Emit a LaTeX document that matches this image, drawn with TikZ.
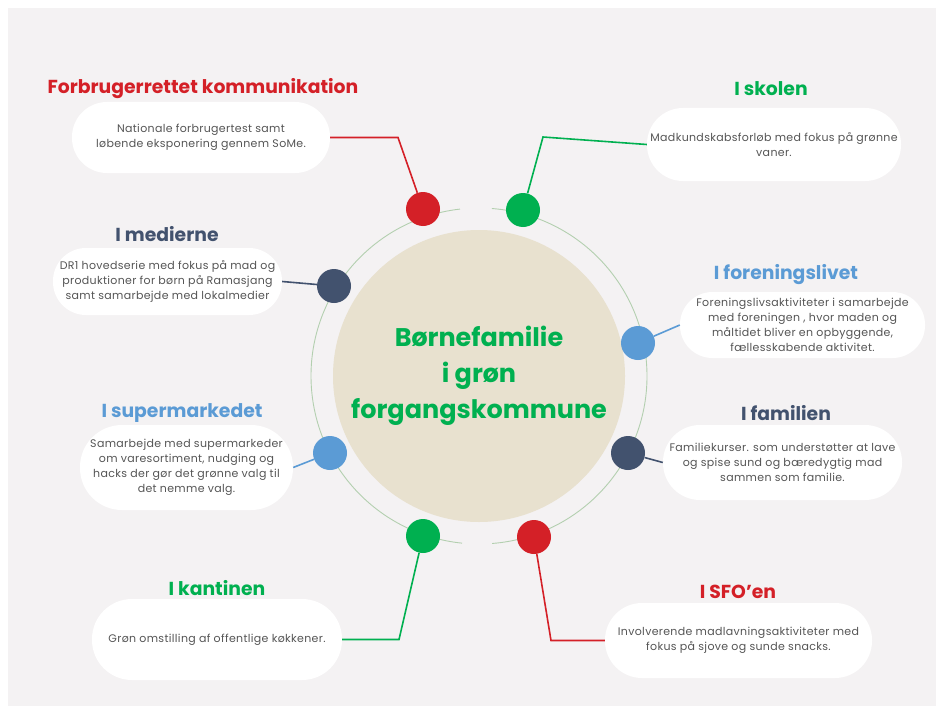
\documentclass[tikz,border=0pt]{standalone}
\usepackage{fontspec}
\setmainfont{Poppins}
\newfontfamily\bodyfont[LetterSpace=3]{Poppins}
\definecolor{bg}{HTML}{F4F2F3}
\definecolor{cred}{HTML}{D42027}
\definecolor{cgreen}{HTML}{00B050}
\definecolor{cslate}{HTML}{42526E}
\definecolor{cblue}{HTML}{5B9BD5}
\definecolor{cbeige}{HTML}{E8E1CF}
\definecolor{cring}{HTML}{B3CFAF}
\definecolor{ctext}{HTML}{555555}
\tikzset{
  infobox/.style={fill=white, inner sep=0pt, align=center, font=\bodyfont\fontsize{11}{15}\selectfont, text=ctext},
  ttl/.style={font=\fontsize{18.8}{22}\selectfont\bfseries, inner sep=0pt},
  dot/.style={circle, minimum size=34pt, inner sep=0pt},
  conn/.style={line width=1.6pt},
}
\begin{document}
\begin{tikzpicture}[x=1pt,y=-1pt]
\useasboundingbox (0,0) rectangle (936,706);
\fill[bg] (8,8) rectangle (936,706);
% centre
\node[circle, fill=cbeige, minimum size=292pt, inner sep=0pt] (hub) at (479,376) {};
\node[align=center, text=cgreen, font=\fontsize{25.5}{36}\selectfont\bfseries] (hubtxt) at (479,376) {Børnefamilie\\i grøn\\forgangskommune};
% ring
\draw[cring, line width=0.9pt] (479,376) ++(263.5:168) arc[start angle=263.5, end angle=95.8, radius=168];
\draw[cring, line width=0.9pt] (479,376) ++(85.5:168) arc[start angle=85.5, end angle=-85.6, radius=168];
% boxes
\node[infobox, minimum width=258pt, minimum height=71pt, rounded corners=35pt] (fc) at (201,137.5) {Nationale forbrugertest samt\\løbende eksponering gennem SoMe.};
\node[infobox, minimum width=254pt, minimum height=73pt, rounded corners=36pt] (sk) at (774,144.5) {Madkundskabsforløb med fokus på grønne\\vaner.};
\node[infobox, minimum width=229pt, minimum height=67pt, rounded corners=33pt] (me) at (167.5,281.5) {DR1 hovedserie med fokus på mad og\\produktioner for børn på Ramasjang\\samt samarbejde med lokalmedier};
\node[infobox, minimum width=245pt, minimum height=66pt, rounded corners=32.5pt] (fo) at (802.5,325) {Foreningslivsaktiviteter i samarbejde\\med foreningen , hvor maden og\\måltidet bliver en opbyggende,\\fællesskabende aktivitet.};
\node[infobox, minimum width=213pt, minimum height=85pt, rounded corners=42pt] (su) at (186.5,467.5) {Samarbejde med supermarkeder\\om varesortiment, nudging og\\hacks der gør det grønne valg til\\det nemme valg.};
\node[infobox, minimum width=239pt, minimum height=75pt, rounded corners=37pt] (fa) at (782.5,462.5) {Familiekurser. som understøtter at lave\\og spise sund og bæredygtig mad\\sammen som familie.};
\node[infobox, minimum width=250pt, minimum height=81pt, rounded corners=40pt] (ka) at (217,639.5) {Grøn omstilling af offentlige køkkener.};
\node[infobox, minimum width=267pt, minimum height=75pt, rounded corners=37pt] (sf) at (738.5,640.5) {Involverende madlavningsaktiviteter med\\fokus på sjove og sunde snacks.};
% titles
\node[ttl, text=cred] (fct) at (203,89) {Forbrugerrettet kommunikation};
\node[ttl, text=cgreen] (skt) at (771,89) {I skolen};
\node[ttl, text=cslate] (met) at (167,234) {I medierne};
\node[ttl, text=cblue] (fot) at (786,275) {I foreningslivet};
\node[ttl, text=cblue] (sut) at (182,413) {I supermarkedet};
\node[ttl, text=cslate] (fat) at (786,413) {I familien};
\node[ttl, text=cgreen] (kat) at (217,588) {I kantinen};
\node[ttl, text=cred] (sft) at (738,592) {I SFO'en};
% dots
\node[dot, fill=cred] (fcd) at (423,209) {};
\node[dot, fill=cgreen] (skd) at (523,210) {};
\node[dot, fill=cslate] (med) at (334,286) {};
\node[dot, fill=cblue] (fod) at (638,343) {};
\node[dot, fill=cblue] (sud) at (330,453) {};
\node[dot, fill=cslate] (fad) at (628,453) {};
\node[dot, fill=cgreen] (kad) at (423,536) {};
\node[dot, fill=cred] (sfd) at (534,537) {};
% connectors
\coordinate (fcb) at (398,137.5);
\coordinate (skb) at (543,137);
\coordinate (kab) at (399,639.5);
\coordinate (sfb) at (551,640.5);
\draw[conn, cred] (fc.east) -- (fcb) -- (fcd);
\draw[conn, cgreen] (sk.west) -- (skb) -- (skd);
\draw[conn, cslate] (me.east) -- (med);
\draw[conn, cblue] (fod) -- (fo.west);
\draw[conn, cblue] (su.east) -- (sud);
\draw[conn, cslate] (fad) -- (fa.west);
\draw[conn, cgreen] (ka.east) -- (kab) -- (kad);
\draw[conn, cred] (sf.west) -- (sfb) -- (sfd);
\end{tikzpicture}
\end{document}
